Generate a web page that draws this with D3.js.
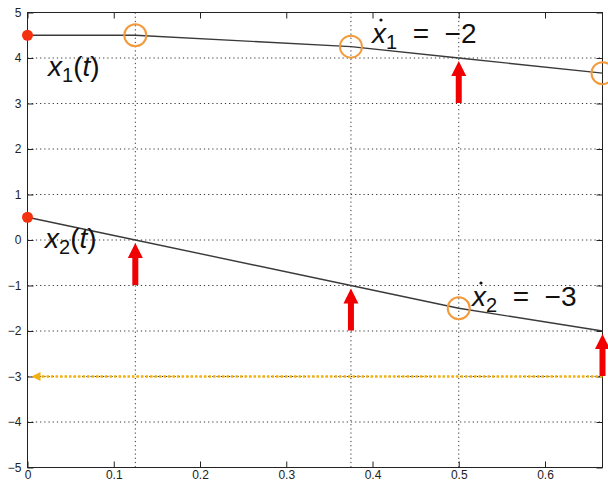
<!DOCTYPE html>
<meta charset="utf-8">
<style>
  body { margin: 0; background: #fff; }
  svg { display: block; }
</style>
<svg width="608" height="483"></svg>
<script src="https://d3js.org/d3.v7.min.js"></script>
<script>

// data
var x1Pts = [[0, 4.5], [0.125, 4.5], [0.375, 4.25], [0.5, 4.0], [2/3, 3.667]];
var x2Pts = [[0, 0.5], [0.125, 0.0], [0.375, -1.0], [0.5, -1.5], [2/3, -2.0]];
var startDots = [[0, 4.5], [0, 0.5]];
var circlePts = [[0.125, 4.5], [0.375, 4.25], [2/3, 3.667], [0.5, -1.5]];
var arrowPts = [[0.5, 4.0], [0.125, 0.0], [0.375, -1.0], [2/3, -2.0]];
var eventTimes = [0.125, 0.375, 0.5];
var xTicks = [0, 0.1, 0.2, 0.3, 0.4, 0.5, 0.6];
var yTicks = [5, 4, 3, 2, 1, 0, -1, -2, -3, -4, -5];
var yGrid = [4, 3, 2, 1, 0, -1, -2, -3, -4];
var levelLine = { y: -3, from: 2/3, to: 0 };

var svg = d3.select("svg");
var pLeft = 27.5, pRight = 602.5, pTop = 12.5, pBottom = 467.5;

var x = d3.scaleLinear().domain([0, 2/3]).range([pLeft, pRight]);
var y = d3.scaleLinear().domain([-5, 5]).range([pBottom, pTop]);

var gridCol = '#333';

// horizontal dotted grid
svg.append("g").selectAll("line")
  .data(yGrid)
  .enter().append("line")
  .attr("x1", pLeft).attr("x2", pRight)
  .attr("y1", d => y(d)).attr("y2", d => y(d))
  .attr("stroke", gridCol)
  .attr("stroke-width", 1)
  .attr("stroke-dasharray", "1.2,3");

// vertical dotted lines at event times
svg.append("g").selectAll("line")
  .data(eventTimes)
  .enter().append("line")
  .attr("x1", d => x(d)).attr("x2", d => x(d))
  .attr("y1", pTop).attr("y2", pBottom)
  .attr("stroke", gridCol)
  .attr("stroke-width", 1)
  .attr("stroke-dasharray", "1.2,3");

// axes (ticks pointing inward, matlab style)
var tickFont = "12px 'Liberation Sans', Arial, sans-serif";
var fmtY = d => d < 0 ? "\u2212" + Math.abs(d) : "" + d;

var xb = svg.append("g").attr("transform", "translate(0," + pBottom + ")")
  .call(d3.axisBottom(x).tickValues(xTicks).tickSizeInner(-6).tickSizeOuter(0).tickPadding(4).tickFormat(d3.format("")));
var xt = svg.append("g").attr("transform", "translate(0," + pTop + ")")
  .call(d3.axisTop(x).tickValues(xTicks).tickSizeInner(-6).tickSizeOuter(0).tickFormat(""));
var yl = svg.append("g").attr("transform", "translate(" + pLeft + ",0)")
  .call(d3.axisLeft(y).tickValues(yTicks).tickSizeInner(-6).tickSizeOuter(0).tickPadding(4).tickFormat(fmtY));
var yr = svg.append("g").attr("transform", "translate(" + pRight + ",0)")
  .call(d3.axisRight(y).tickValues(yTicks).tickSizeInner(-6).tickSizeOuter(0).tickFormat(""));

[xb, xt, yl, yr].forEach(function(g){
  g.selectAll("path").remove();
  g.selectAll("line").attr("stroke", "#222");
  g.selectAll("text").style("font", tickFont).attr("fill", "#222");
});
xb.selectAll("text").attr("y", 3);
yl.selectAll("text").attr("x", -6);

// frame
svg.append("rect")
  .attr("x", pLeft).attr("y", pTop)
  .attr("width", pRight - pLeft).attr("height", pBottom - pTop)
  .attr("fill", "none").attr("stroke", "#222").attr("stroke-width", 1);

// the two trajectories
var line = d3.line().x(d => x(d[0])).y(d => y(d[1]));
[x1Pts, x2Pts].forEach(function(pts){
  svg.append("path")
    .datum(pts)
    .attr("d", line)
    .attr("fill", "none")
    .attr("stroke", "#3a3a3a")
    .attr("stroke-width", 1.4);
});

// yellow dotted level line with arrow head to the left
var yel = '#f2b10f';
svg.append("line")
  .attr("x1", x(levelLine.from)).attr("x2", x(levelLine.to) + 10)
  .attr("y1", y(levelLine.y)).attr("y2", y(levelLine.y))
  .attr("stroke", yel)
  .attr("stroke-width", 2.5)
  .attr("stroke-dasharray", "2.5,2");
svg.append("path")
  .attr("d", "M" + (x(levelLine.to) + 4) + "," + y(levelLine.y) + "l9,-4.5l0,9Z")
  .attr("fill", yel);

// red up arrows
var red = '#f00000';
svg.append("g").selectAll("path")
  .data(arrowPts)
  .enter().append("path")
  .attr("d", function(d){
    var cx = x(d[0]), ty = y(d[1]) + 3;
    var hw = 7.5, hl = 15, sw = 3, len = 42;
    return "M" + cx + "," + ty +
      "L" + (cx + hw) + "," + (ty + hl) +
      "L" + (cx + sw) + "," + (ty + hl) +
      "L" + (cx + sw) + "," + (ty + len) +
      "L" + (cx - sw) + "," + (ty + len) +
      "L" + (cx - sw) + "," + (ty + hl) +
      "L" + (cx - hw) + "," + (ty + hl) + "Z";
  })
  .attr("fill", red);

// orange circles
svg.append("g").selectAll("circle")
  .data(circlePts)
  .enter().append("circle")
  .attr("cx", d => x(d[0])).attr("cy", d => y(d[1]))
  .attr("r", 11)
  .attr("fill", "none")
  .attr("stroke", "#f39a3c")
  .attr("stroke-width", 2);

// start dots
svg.append("g").selectAll("circle")
  .data(startDots)
  .enter().append("circle")
  .attr("cx", d => x(d[0])).attr("cy", d => y(d[1]))
  .attr("r", 5.5)
  .attr("fill", "#f5320f");

// labels
var labFont = "'Liberation Sans', Arial, sans-serif";

function stateLabel(px, py, sub) {
  var t = svg.append("text").attr("x", px).attr("y", py)
    .attr("fill", "#111").style("font-family", labFont).style("font-size", "28px");
  t.append("tspan").style("font-style", "italic").text("x");
  t.append("tspan").attr("dy", 6).style("font-size", "20px").text(sub);
  t.append("tspan").attr("dy", -6).text("(");
  t.append("tspan").style("font-style", "italic").text("t");
  t.append("tspan").text(")");
}

function rateLabel(px, py, sub, val) {
  var t = svg.append("text").attr("x", px).attr("y", py)
    .attr("fill", "#111").style("font-family", labFont).style("font-size", "28px")
    .attr("xml:space", "preserve");
  t.append("tspan").style("font-style", "italic").text("x");
  t.append("tspan").attr("dy", 6).style("font-size", "20px").text(sub);
  t.append("tspan").attr("dy", -6).text("  =  \u2212" + val);
  svg.append("circle")
    .attr("cx", px + 9).attr("cy", py - 23)
    .attr("r", 1.6).attr("fill", "#111");
}

stateLabel(48, 76, "1");
stateLabel(45, 248, "2");
rateLabel(372, 43, "1", "2");
rateLabel(472, 306, "2", "3");

</script>
